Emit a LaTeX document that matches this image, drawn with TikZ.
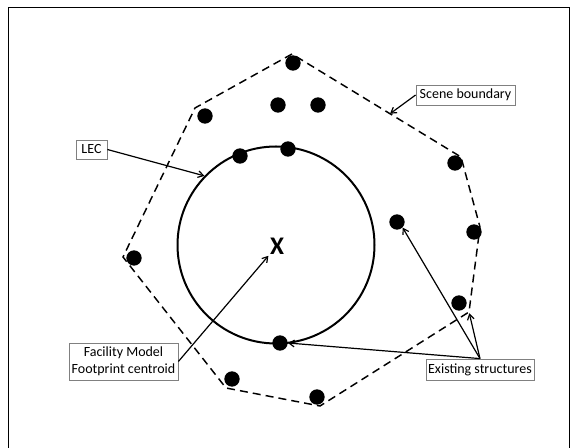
\documentclass[tikz,border=0pt]{standalone}
\usepackage{fontspec}
\setmainfont{Carlito}
\usepackage{tikz}
\usetikzlibrary{arrows.meta,positioning,calc}
\definecolor{boxgray}{RGB}{128,128,128}
\tikzset{
  frm/.style={black, line width=1.1pt},
  bnd/.style={black, line width=1.1pt, dash pattern=on 6pt off 3.8pt},
  lecc/.style={circle, draw=black, line width=1.5pt, minimum size=147.75pt, inner sep=0pt},
  bldg/.style={circle, fill=black, inner sep=0pt, minimum size=11.5pt},
  lbl/.style={draw=boxgray, line width=0.6pt, fill=white, inner sep=0pt, align=center,
              font=\fontsize{10.5}{12.75}\selectfont},
  ptr/.style={-{Straight Barb[length=4pt,width=5pt]}, black, line width=0.9pt},
}
\begin{document}
\begin{tikzpicture}[x=0.75pt, y=-0.75pt]
  \useasboundingbox (0,0) rectangle (576,448);
  \draw[frm] (8.5,448) -- (8.5,7.5) -- (569.5,7.5) -- (569.5,448);
  % scene boundary
  \coordinate (p1) at (292,54);
  \coordinate (p2) at (195,108);
  \coordinate (p3) at (123,257);
  \coordinate (p4) at (226,388);
  \coordinate (p5) at (320,406);
  \coordinate (p6) at (469,312);
  \coordinate (p7) at (480,227);
  \coordinate (p8) at (461,157);
  \draw[bnd] (p1) -- (p2) -- (p3) -- (p4) -- (p5) -- (p6) -- (p7) -- (p8) -- cycle;
  \coordinate (sbpt) at ($(p1)!0.58!(p8)$);
  % LEC and centroid
  \node[lecc] (lec) at (276,245) {};
  \node[inner sep=1pt, font=\fontsize{19}{19}\selectfont\bfseries] (cx) at (277,246) {X};
  % existing structures
  \node[bldg] (s1) at (293,63) {};
  \node[bldg] (s2) at (205,116) {};
  \node[bldg] (s3) at (278,105) {};
  \node[bldg] (s4) at (318,105) {};
  \node[bldg] (s5) at (240,156) {};
  \node[bldg] (s6) at (288,149) {};
  \node[bldg] (s7) at (455,163) {};
  \node[bldg] (s8) at (397,222) {};
  \node[bldg] (s9) at (474,232) {};
  \node[bldg] (s10) at (134,258) {};
  \node[bldg] (s11) at (459,303) {};
  \node[bldg] (s12) at (280,343) {};
  \node[bldg] (s13) at (232,379) {};
  \node[bldg] (s14) at (317,397) {};
  % labels
  \node[lbl, minimum width=23.25pt, minimum height=14.25pt] (leclbl) at (91.5,149.5) {LEC};
  \node[lbl, minimum width=74.25pt, minimum height=15pt] (sblbl) at (465.5,95) {Scene boundary};
  \node[lbl, minimum width=81.75pt, minimum height=27.75pt] (fmlbl) at (123.5,361.5) {Facility Model\\Footprint centroid};
  \node[lbl, minimum width=81pt, minimum height=15.75pt] (eslbl) at (480,369.5) {Existing structures};
  % pointers
  \draw[ptr] (leclbl.east) -- (lec.136);
  \draw[ptr] (sblbl.west) -- (sbpt);
  \draw[ptr] (fmlbl.east) -- (cx.south west);
  \draw[ptr] (eslbl.north) -- (s8.south east);
  \draw[ptr] (eslbl.north) -- (s12.east);
  \draw[ptr, shorten >=1pt] (eslbl.north) -- (p6);
\end{tikzpicture}
\end{document}
